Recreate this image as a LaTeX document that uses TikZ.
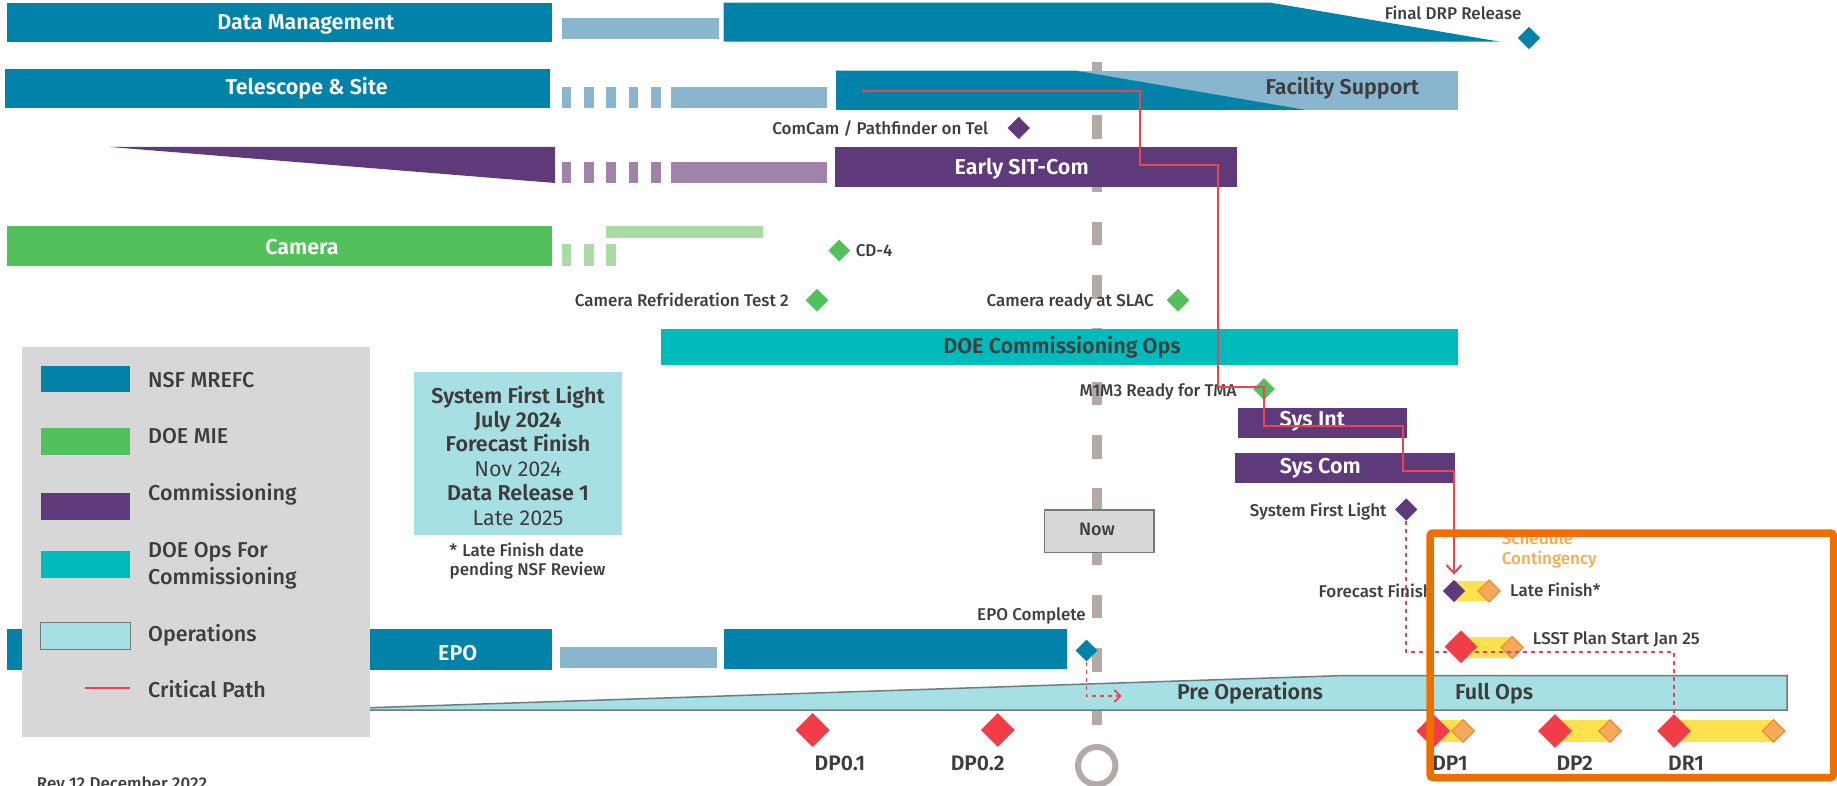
\documentclass[tikz,border=0pt]{standalone}
\usepackage{fontspec}
\setmainfont{Fira Sans Medium}[BoldFont={Fira Sans SemiBold}]
\newfontfamily\fsreg{Fira Sans}
\usetikzlibrary{shapes.geometric,arrows.meta}
\definecolor{nsf}{HTML}{0082A9}
\definecolor{nsflt}{HTML}{8AB5CE}
\definecolor{pur}{HTML}{5F3A7A}
\definecolor{purlt}{HTML}{A083A9}
\definecolor{grn}{HTML}{52C15B}
\definecolor{grnlt}{HTML}{ACDCA6}
\definecolor{doeops}{HTML}{00BBBB}
\definecolor{ops}{HTML}{A7E0E4}
\definecolor{opsline}{HTML}{6E7C7E}
\definecolor{leg}{HTML}{D7D7D7}
\definecolor{nowc}{HTML}{B3AAA7}
\definecolor{redd}{HTML}{F23C48}
\definecolor{yel}{HTML}{FDE14F}
\definecolor{ord}{HTML}{F6A95A}
\definecolor{ordline}{HTML}{EC8330}
\definecolor{obox}{HTML}{EE6F00}
\definecolor{cont}{HTML}{F7AA4B}
\definecolor{crit}{HTML}{E8434F}
\definecolor{txt}{HTML}{3D3D3D}
\definecolor{nowbox}{HTML}{D8D8D8}
\newcommand\fsL{\fontsize{21.5}{24}\selectfont}
\newcommand\fsA{\fontsize{17}{20}\selectfont}
\tikzset{
  barlbl/.style={font=\fsL\bfseries, text=white, inner sep=0pt, anchor=base},
  dklbl/.style={font=\fsL\bfseries, text=txt, inner sep=0pt, anchor=base},
  ann/.style={font=\fsA, text=txt, inner sep=0pt},
  legt/.style={font=\fsL, text=txt, inner sep=0pt, anchor=base west},
  dplbl/.style={font=\fontsize{21}{24}\selectfont\bfseries, text=txt, inner sep=0pt, anchor=base},
  infob/.style={font=\fsL\bfseries, text=txt, inner sep=0pt, anchor=base},
  infor/.style={font=\fsL\fsreg, text=txt, inner sep=0pt, anchor=base},
  dia/.style={shape=diamond, aspect=1, inner sep=0pt, minimum size=#1},
  odia/.style={dia=#1, fill=ord, draw=ordline, line width=1pt},
  critline/.style={crit, line width=2pt},
  dotline/.style={crit, line width=2pt, dash pattern=on 4pt off 4pt},
}
\begin{document}
\begin{tikzpicture}[x=1pt,y=-1pt]
\useasboundingbox (0,0) rectangle (1837,786);
\clip (0,0) rectangle (1837,786);

% Now line
\coordinate (nowtop) at (1096.7,61.7);
\coordinate (nowbot) at (1096.7,726);
\draw[nowc, line width=10pt, dash pattern=on 23.7pt off 29.6pt] (nowtop) -- (nowbot);

% Data Management
\fill[nsf] (7,2.7) rectangle (552,41.7);
\fill[nsflt] (562,17.7) rectangle (719,39);
\fill[nsf] (723.6,2.7) -- (1270.6,2.7) -- (1500,41.7) -- (723.6,41.7) -- cycle;

% Telescope & Site
\fill[nsf] (4.7,69.3) rectangle (550,108.3);
\foreach \x in {561.6,584,606.2,628.5,651.4} \fill[nsflt] (\x,87) rectangle ++(9.5,21.5);
\fill[nsflt] (671,87) rectangle (827,108.5);
\fill[nsflt] (1076,70.7) rectangle (1458,110);
\fill[nsf] (836,70.7) -- (1076,70.7) -- (1306,110) -- (836,110) -- cycle;

% Commissioning row
\fill[pur] (110,147) -- (555.2,147) -- (555.2,183) -- cycle;
\foreach \x in {561.6,584,606.2,628.5,651.4} \fill[purlt] (\x,162.5) rectangle ++(9.5,20.5);
\fill[purlt] (671,162.5) rectangle (827,183);
\fill[pur] (835,147.3) rectangle (1236.7,186.7);

% Camera
\fill[grn] (7,225.7) rectangle (552,265.7);
\foreach \x in {561.6,584,606.2} \fill[grnlt] (\x,244) rectangle ++(9.5,21.7);
\fill[grnlt] (606,225.7) rectangle (763,238);

% DOE commissioning ops
\fill[doeops] (661,329) rectangle (1457.7,364.5);

% Sys Int / Sys Com
\fill[pur] (1237.5,407.7) rectangle (1406.8,438.2);
\fill[pur] (1235,452.7) rectangle (1455,483.2);

% EPO
\fill[nsf] (6.7,629.3) rectangle (551.6,669.5);
\fill[nsflt] (560,646.7) rectangle (717,668.3);
\fill[nsf] (723.6,629.3) rectangle (1067.3,669.3);

% Pre / Full operations
\filldraw[fill=ops, draw=opsline, line width=1.5pt] (300,710) -- (1345,675.5) -- (1787,675.5) -- (1787,710) -- cycle;

% Legend
\fill[leg] (22,346.7) rectangle (370,736.7);
\fill[nsf] (41,366) rectangle (130.3,392.3);
\fill[grn] (41,428.3) rectangle (130.3,455);
\fill[pur] (41,493.3) rectangle (130.3,520);
\fill[doeops] (41,551) rectangle (130.3,577.7);
\filldraw[fill=ops, draw=opsline, line width=1.2pt] (40.7,622.3) rectangle (130.7,649.3);
\coordinate (cpl1) at (85,688.3);
\coordinate (cpl2) at (130,688.3);
\draw[critline] (cpl1) -- (cpl2);
\node[legt] (l1) at (148,387.5) {NSF MREFC};
\node[legt] (l2) at (148,443.3) {DOE MIE};
\node[legt] (l3) at (148,500.5) {Commissioning};
\node[legt] (l4) at (148,557.2) {DOE Ops For};
\node[legt] (l4b) at (148,584) {Commissioning};
\node[legt] (l5) at (148,641.7) {Operations};
\node[legt] (l6) at (148,697.7) {Critical Path};

% Info box
\fill[ops] (414,372) rectangle (622,535);
\node[infob] (i1) at (518,403.3) {System First Light};
\node[infob] (i2) at (518,427.3) {July 2024};
\node[infob] (i3) at (518,451.5) {Forecast Finish};
\node[infor] (i4) at (518,476) {Nov 2024};
\node[infob] (i5) at (518,500.3) {Data Release 1};
\node[infor] (i6) at (518,525) {Late 2025};
\node[ann, anchor=base west] (fn1) at (449.5,556.7) {*\hspace{5pt}Late Finish date};
\node[ann, anchor=base west] (fn2) at (449.5,575) {pending NSF Review};

% Yellow contingency bars
\fill[yel] (1455,581) rectangle (1489,601);
\fill[yel] (1461,636.7) rectangle (1512,658.3);
\fill[yel] (1433,720) rectangle (1463,741.7);
\fill[yel] (1555,720) rectangle (1610,741.7);
\fill[yel] (1674,720) rectangle (1773.5,741.7);

% Diamonds
\node[dia=22.5pt, fill=nsf] (drp) at (1529,38) {};
\node[dia=22.5pt, fill=pur] (comcam) at (1018.7,128) {};
\node[dia=22pt, fill=grn] (cd4) at (839.2,250.5) {};
\node[dia=23pt, fill=grn] (crt) at (817,300.3) {};
\node[dia=23pt, fill=grn] (slac) at (1178,300.3) {};
\node[dia=22pt, fill=grn] (m1m3) at (1264,389) {};
\node[dia=22.5pt, fill=pur] (sfl) at (1406.3,509.5) {};
\node[dia=22pt, fill=nsf] (epod) at (1086.5,650.5) {};
\node[odia=22.5pt] (lf) at (1489,591) {};
\node[dia=22.5pt, fill=pur] (ff) at (1454,591) {};
\node[odia=22.5pt] (lsstlate) at (1512,647.5) {};
\node[dia=33pt, fill=redd] (lsst) at (1461,646.7) {};
\node[dia=34pt, fill=redd] (dp01) at (812.6,730) {};
\node[dia=34pt, fill=redd] (dp02) at (997.7,730) {};
\node[odia=23pt] (dp1l) at (1463,731) {};
\node[dia=34pt, fill=redd] (dp1) at (1433.3,731) {};
\node[odia=23pt] (dp2l) at (1610,731) {};
\node[dia=34pt, fill=redd] (dp2) at (1555,731) {};
\node[odia=23pt] (dr1l) at (1773.5,731) {};
\node[dia=34pt, fill=redd] (dr1) at (1674,731) {};

% Bar labels
\node[barlbl] (dm) at (305.8,30) {Data Management};
\node[barlbl] (ts) at (306.6,94.3) {Telescope \& Site};
\node[dklbl] (fs) at (1342.3,95) {Facility Support};
\node[barlbl] (esc) at (1021.7,175) {Early SIT-Com};
\node[barlbl] (cam) at (302,255) {Camera};
\node[dklbl] (doe) at (1062,354) {DOE Commissioning Ops};
\node[barlbl] (si) at (1312.3,426.7) {Sys Int};
\node[barlbl] (sc) at (1320.3,473) {Sys Com};
\node[barlbl] (epo) at (457.7,660) {EPO};
\node[dklbl] (preops) at (1250,699.3) {Pre Operations};
\node[dklbl, anchor=base west] (fullops) at (1455,699.3) {Full Ops};

% Annotations
\node[ann, anchor=base east] (drpt) at (1521.6,20) {Final DRP Release};
\node[ann, anchor=base east] (comcamt) at (988.3,135) {ComCam / Pathfinder on Tel};
\node[ann, anchor=base west] (cd4t) at (855.6,256.7) {CD-4};
\node[ann, anchor=base east] (crtt) at (789,306.7) {Camera Refrideration Test 2};
\node[ann, anchor=base east] (slact) at (1154,306.7) {Camera ready at SLAC};
\node[ann, anchor=base east] (m1m3t) at (1236.7,396) {M1M3 Ready for TMA};
\node[ann, anchor=base east] (sflt) at (1386.7,516) {System First Light};
\node[ann, anchor=base east] (epoct) at (1086,620.7) {EPO Complete};
\node[ann, anchor=base east] (fft) at (1433,597.3) {Forecast Finish};
\node[ann, anchor=base west] (lft) at (1510,596.7) {Late Finish*};
\node[ann, anchor=base west] (lsstt) at (1532.7,644) {LSST Plan Start Jan 25};
\node[ann, anchor=base west, text=cont] (sch1) at (1501.7,544.3) {Schedule};
\node[ann, anchor=base west, text=cont] (sch2) at (1501.7,564) {Contingency};
\node[dplbl] (dp01t) at (840,770.7) {DP0.1};
\node[dplbl] (dp02t) at (977.7,770.7) {DP0.2};
\node[dplbl] (dp1t) at (1450,770.7) {DP1};
\node[dplbl] (dp2t) at (1574.7,770.7) {DP2};
\node[dplbl] (dr1t) at (1686,770.7) {DR1};
\node[ann, anchor=base west] (rev) at (36.7,789) {Rev 12 December 2022};

% Critical path
\coordinate (cpstart) at (861.7,90.7);
\draw[critline, -{Straight Barb[length=8pt,width=15pt]}, shorten >=5pt]
  (cpstart) -| (1140,165) -| (1217.7,387) -| (1264,425.5) -| (1402.7,470.5) -| (ff.north);
% Dotted links
\coordinate (dotc) at (1674,652.3);
\draw[dotline] (sfl.south) |- (dotc) -- (dr1.north);
\coordinate (epoarr) at (1121.7,696);
\draw[dotline, line width=1.8pt, -{Straight Barb[length=6pt,width=12pt]}] (epod.south) |- (epoarr);

% Now box and marker
\node[draw=opsline, fill=nowbox, line width=1.5pt, minimum width=109.4pt, minimum height=42.3pt, inner sep=0pt] (now) at (1099.3,531.2) {};
\node[ann, anchor=base, font=\fontsize{18}{20}\selectfont] (nowt) at (1097,535) {Now};
\node[draw=nowc, line width=6pt, circle, minimum size=37.4pt, inner sep=0pt] (ring) at (1096.7,765.7) {};

% Orange box
\node[draw=obox, line width=7.5pt, rounded corners=3pt, minimum width=403.5pt, minimum height=244.5pt, inner sep=0pt] (obx) at (1631.75,655.25) {};
\end{tikzpicture}
\end{document}
